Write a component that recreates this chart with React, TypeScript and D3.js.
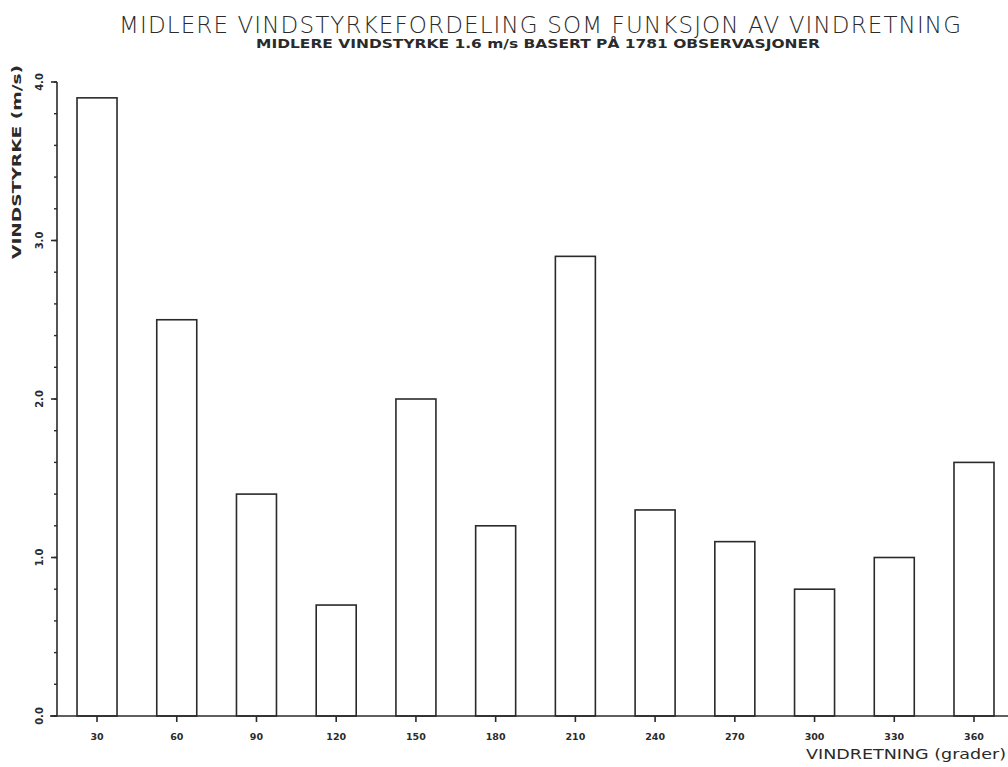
import React from "react";
import * as d3 from "d3";

const directions = [30, 60, 90, 120, 150, 180, 210, 240, 270, 300, 330, 360];
const meanSpeed = [3.9, 2.5, 1.4, 0.7, 2.0, 1.2, 2.9, 1.3, 1.1, 0.8, 1.0, 1.6];
const yMajorTicks = [0, 1, 2, 3, 4];
const yMinorTicks = d3.range(0, 4.0001, 0.2);

const W = 1008;
const H = 767;
const ink = "#2a2a2a";

export default function App() {
  const x = d3.scaleLinear().domain([0, 360]).range([17.3, 974]);
  const y = d3.scaleLinear().domain([0, 4]).range([716, 82]);
  const barW = 40;
  const axisX = 57;

  return (
    <svg width={W} height={H} style={{ position: "absolute", left: 0, top: 0, background: "#fff" }}>
      <text x={540} y={33} textAnchor="middle" fontFamily="DejaVu Sans" fontWeight={200} fontSize={23}
        textLength={842} lengthAdjust="spacing" fill={ink}>
        MIDLERE VINDSTYRKEFORDELING SOM FUNKSJON AV VINDRETNING
      </text>
      <text x={538} y={48} textAnchor="middle" fontFamily="DejaVu Sans" fontWeight="bold" fontSize={12}
        textLength={564} lengthAdjust="spacingAndGlyphs" fill={ink}>
        MIDLERE VINDSTYRKE 1.6 m/s BASERT PÅ 1781 OBSERVASJONER
      </text>

      {/* y axis label */}
      <text transform="translate(21,162) rotate(-90)" textAnchor="middle" fontFamily="DejaVu Sans"
        fontWeight="bold" fontSize={12} textLength={194} lengthAdjust="spacingAndGlyphs" fill={ink}>
        VINDSTYRKE  (m/s)
      </text>

      {/* bars */}
      {directions.map((d, i) => (
        <rect key={d} x={x(d) - barW / 2} y={y(meanSpeed[i])} width={barW} height={y(0) - y(meanSpeed[i])}
          fill="#fff" stroke={ink} strokeWidth={1.6} />
      ))}

      {/* y axis */}
      <line x1={axisX} x2={axisX} y1={y(0)} y2={y(4)} stroke={ink} strokeWidth={1.6} />
      {yMinorTicks.map((t) => (
        <line key={"m" + t} x1={axisX - 3} x2={axisX} y1={y(t)} y2={y(t)} stroke={ink} strokeWidth={1.4} />
      ))}
      {yMajorTicks.map((t) => (
        <g key={t}>
          <line x1={axisX - 6} x2={axisX} y1={y(t)} y2={y(t)} stroke={ink} strokeWidth={1.6} />
          <text transform={`translate(${axisX - 14},${y(t)}) rotate(-90)`} textAnchor="middle"
            fontFamily="DejaVu Sans" fontWeight="bold" fontSize={10} fill={ink}>
            {t.toFixed(1)}
          </text>
        </g>
      ))}

      {/* x axis */}
      <line x1={50} x2={W} y1={y(0)} y2={y(0)} stroke={ink} strokeWidth={1.6} />
      {directions.map((d) => (
        <g key={"x" + d}>
          <line x1={x(d)} x2={x(d)} y1={y(0)} y2={y(0) + 6} stroke={ink} strokeWidth={1.6} />
          <text x={x(d)} y={y(0) + 24} textAnchor="middle" fontFamily="DejaVu Sans" fontWeight="bold"
            fontSize={9.5} fill={ink}>
            {d}
          </text>
        </g>
      ))}
      <text x={1006} y={759} textAnchor="end" fontFamily="DejaVu Sans" fontSize={13.5}
        textLength={200} lengthAdjust="spacingAndGlyphs" fill={ink}>
        VINDRETNING (grader)
      </text>
    </svg>
  );
}
